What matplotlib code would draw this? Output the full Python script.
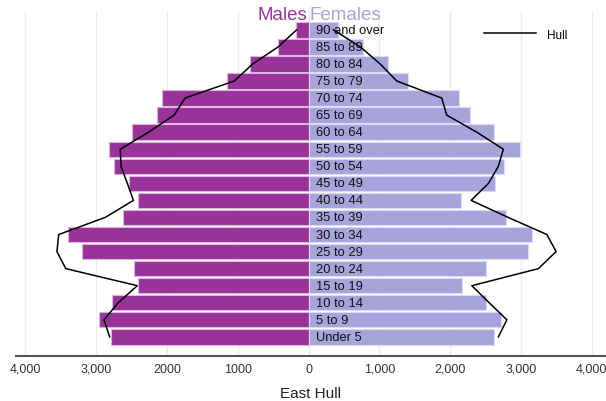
import numpy as np
import matplotlib
matplotlib.use("Agg")
import matplotlib.pyplot as plt

plt.rcParams['font.family'] = ['Liberation Sans', 'DejaVu Sans']

# ===== data (bottom to top) =====
age_groups = ['Under 5', '5 to 9', '10 to 14', '15 to 19', '20 to 24', '25 to 29',
              '30 to 34', '35 to 39', '40 to 44', '45 to 49', '50 to 54', '55 to 59',
              '60 to 64', '65 to 69', '70 to 74', '75 to 79', '80 to 84', '85 to 89',
              '90 and over']
males = [2790, 2960, 2780, 2410, 2460, 3200, 3400, 2615, 2405, 2540, 2750, 2820,
         2490, 2135, 2070, 1155, 830, 430, 175]
females = [2615, 2710, 2500, 2160, 2510, 3105, 3160, 2785, 2155, 2630, 2755, 2985,
           2620, 2280, 2130, 1405, 1120, 765, 410]
hull_males = [2810, 2890, 2690, 2420, 3430, 3555, 3530, 2875, 2475, 2560, 2650, 2660,
              2260, 1900, 1745, 1050, 790, 430, 170]
hull_females = [2680, 2800, 2550, 2305, 3245, 3495, 3365, 2820, 2295, 2540, 2680, 2750,
                2375, 1950, 1880, 1245, 1010, 730, 350]
x_ticks = [-4000, -3000, -2000, -1000, 0, 1000, 2000, 3000, 4000]
x_tick_labels = ['4,000', '3,000', '2000', '1000', '0', '1,000', '2,000', '3,000', '4,000']

male_col = '#993399'
female_col = '#a9a3dc'

y = np.arange(len(age_groups))

fig = plt.figure(figsize=(6.06, 4.02), dpi=100)
ax = fig.add_axes([0.0256, 0.112, 0.9744, 0.858])

ax.barh(y, [-m for m in males], height=0.9, color=male_col,
        edgecolor='#dcb6dc', linewidth=0.8, zorder=2)
ax.barh(y, females, height=0.9, color=female_col,
        edgecolor='#dddaf4', linewidth=0.8, zorder=2)

ax.plot([-h for h in hull_males], y, color='black', lw=1.1, zorder=4, label='Hull')
ax.plot(hull_females, y, color='black', lw=1.1, zorder=4)

for yi, lab in zip(y, age_groups):
    ax.text(110, yi, lab, ha='left', va='center', fontsize=9.3, color='#111111', zorder=3)

ax.set_xlim(-4140, 4200)
ax.set_ylim(-1.12, 19.1)
ax.set_xticks(x_ticks)
ax.set_xticklabels(x_tick_labels, fontsize=9, color='#333333')
ax.tick_params(axis='x', length=0, pad=5)
ax.set_yticks([])
ax.grid(axis='x', color='#e6eff0', lw=1, zorder=0)
ax.set_axisbelow(True)
for s in ['left', 'right', 'top']:
    ax.spines[s].set_visible(False)
ax.spines['bottom'].set_color('#555555')
ax.spines['bottom'].set_linewidth(1.5)

ax.set_xlabel('East Hull', fontsize=11, color='#222222', labelpad=8)

fig.text(0.507, 0.962, 'Males', ha='right', va='center', fontsize=13.5, color=male_col)
fig.text(0.510, 0.962, 'Females', ha='left', va='center', fontsize=13.5, color=female_col)

ax.legend(loc='upper right', bbox_to_anchor=(0.952, 0.98), frameon=False,
          fontsize=8.5, handlelength=4.4, handletextpad=0.9)

fig.savefig('out.png', dpi=100)
